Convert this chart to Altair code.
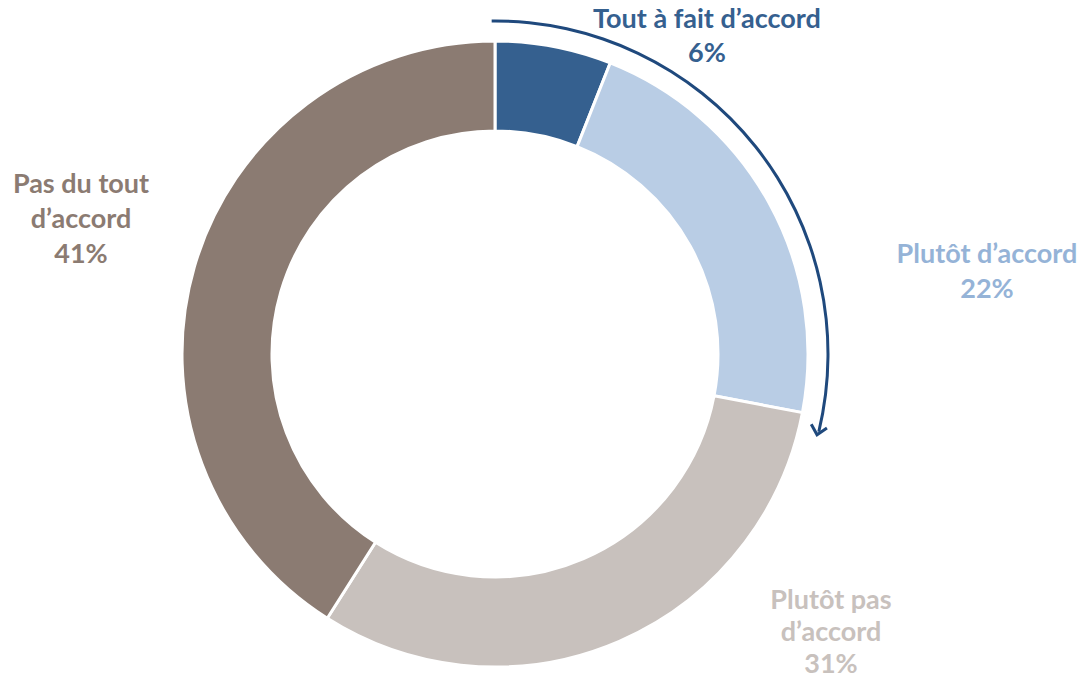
import math
import altair as alt
import pandas as pd

# Data
categories = ["Tout à fait d’accord", "Plutôt d’accord", "Plutôt pas d’accord", "Pas du tout d’accord"]
values = [6, 22, 31, 41]
label_lines = [
    ["Tout à fait d’accord", "6%"],
    ["Plutôt d’accord", "22%"],
    ["Plutôt pas", "d’accord", "31%"],
    ["Pas du tout", "d’accord", "41%"],
]

# Styles / layout
slice_colors = ["#35608F", "#B9CDE5", "#C8C1BD", "#8B7B72"]
label_colors = ["#35608F", "#95B3D7", "#C8C1BD", "#8B7B72"]
label_pos = [(699, 12), (979, 247), (823, 593), (73, 177)]
label_line_heights = [34, 35, 32, 35]
W, H = 1073, 669
CX, CY = 487, 346
R_IN, R_OUT = 223, 313
ARROW_R = 333
ARROW_T0, ARROW_T1 = 2 * math.pi - 0.01, 2 * math.pi + math.radians(103.5)
ARROW_COLOR = "#1F497D"
FONT = "Lato"

df = pd.DataFrame({"cat": categories, "val": values, "order": list(range(len(values)))})

donut = alt.Chart(df).mark_arc(
    innerRadius=R_IN, outerRadius=R_OUT, stroke="white", strokeWidth=3
).encode(
    theta=alt.Theta("val:Q", stack=True),
    order=alt.Order("order:Q"),
    color=alt.Color("cat:N", scale=alt.Scale(domain=categories, range=slice_colors), legend=None),
    x=alt.value(CX), y=alt.value(CY),
)

arrow_arc = alt.Chart(pd.DataFrame({"a": [0]})).mark_arc(
    innerRadius=ARROW_R - 1.5, outerRadius=ARROW_R + 1.5,
    theta=ARROW_T0, theta2=ARROW_T1, color=ARROW_COLOR,
).encode(x=alt.value(CX), y=alt.value(CY))

tip_r = ARROW_R - 1
tx = CX + tip_r * math.sin(ARROW_T1 + 0.01)
ty = CY - tip_r * math.cos(ARROW_T1 + 0.01)
arrow_head = alt.Chart(pd.DataFrame({"a": [0]})).mark_point(
    shape="M-1,-1.1L0,0L1,-1.1", filled=False, stroke=ARROW_COLOR, strokeWidth=3,
    size=260, angle=math.degrees(ARROW_T1 - 2 * math.pi) - 90, opacity=1,
).encode(x=alt.value(tx), y=alt.value(ty))

layers = [donut, arrow_arc, arrow_head]
for lines, col, (lx, ly), lh in zip(label_lines, label_colors, label_pos, label_line_heights):
    t = alt.Chart(pd.DataFrame({"t": ["\n".join(lines)]})).mark_text(
        font=FONT, fontSize=27, fontWeight="bold", color=col, align="center",
        baseline="middle", lineBreak="\n", lineHeight=lh,
    ).encode(text="t:N", x=alt.value(lx), y=alt.value(ly))
    layers.append(t)

chart = alt.layer(*layers).properties(
    width=W, height=H, autosize=alt.AutoSizeParams(type="none"), padding=0
).configure_view(stroke=None)

chart.save("out.html", embed_options={"renderer": "svg", "actions": False})
